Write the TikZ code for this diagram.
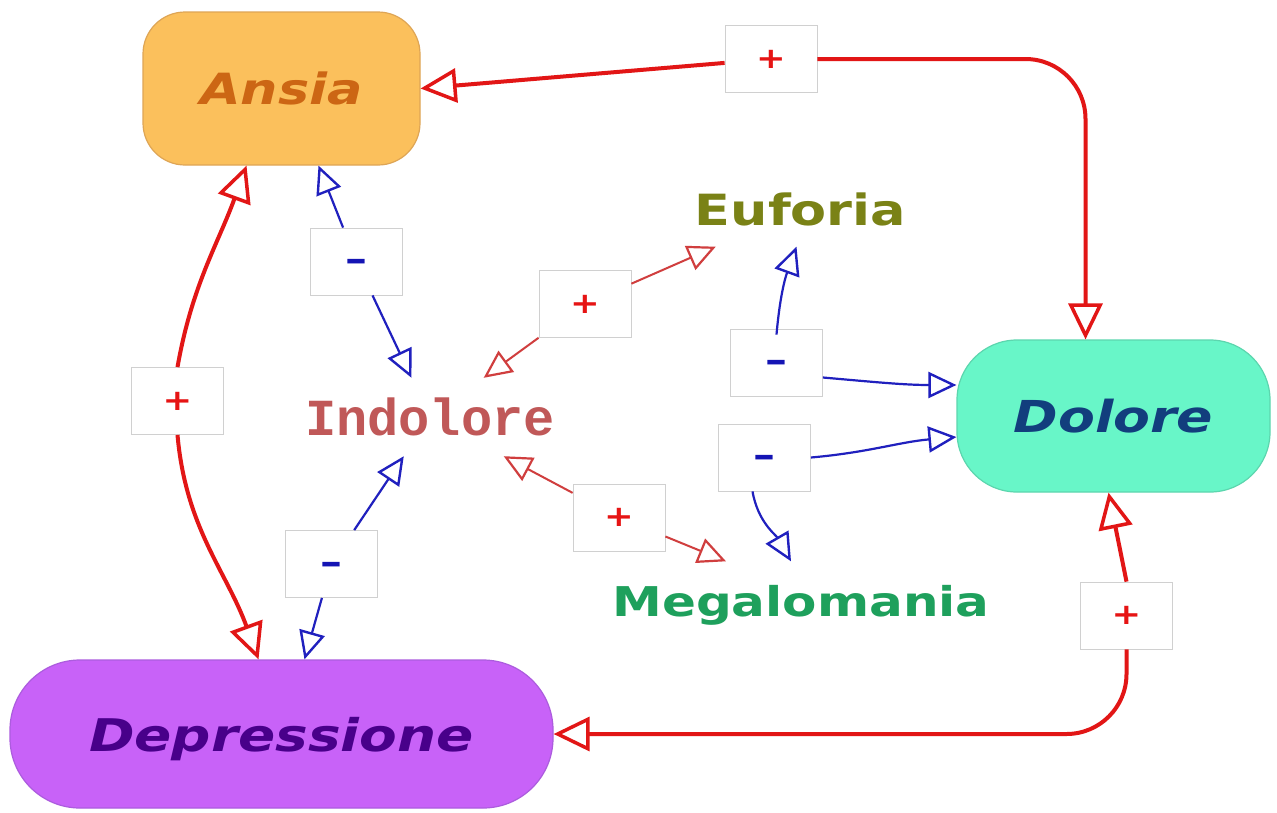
\documentclass[tikz,border=0pt]{standalone}
\usepackage{fontspec}
\usetikzlibrary{arrows.meta}
\newfontfamily\wideface[FakeStretch=1.22]{DejaVu Sans}
\newfontfamily\slabface{Liberation Mono}

\definecolor{ansiafill}{RGB}{251,192,92}
\definecolor{ansiaedge}{RGB}{222,165,85}
\definecolor{ansiatext}{RGB}{204,102,20}
\definecolor{dolorefill}{RGB}{104,246,200}
\definecolor{doloreedge}{RGB}{92,214,174}
\definecolor{doloretext}{RGB}{18,62,125}
\definecolor{deprfill}{RGB}{200,98,248}
\definecolor{depredge}{RGB}{172,92,222}
\definecolor{deprtext}{RGB}{72,0,138}
\definecolor{eufcol}{RGB}{122,130,22}
\definecolor{indcol}{RGB}{192,88,88}
\definecolor{megacol}{RGB}{30,160,92}
\definecolor{linkred}{RGB}{226,22,22}
\definecolor{thinred}{RGB}{208,62,62}
\definecolor{linkblue}{RGB}{32,32,190}
\definecolor{plusred}{RGB}{230,20,20}
\definecolor{minusblue}{RGB}{20,20,180}
\definecolor{signedge}{RGB}{208,208,208}

\tikzset{
  mainbox/.style={rectangle, line width=1.2pt, inner sep=0pt,
    font=\wideface\bfseries\itshape\fontsize{44}{50}\selectfont},
  plain/.style={rectangle, inner sep=0pt,
    font=\wideface\bfseries\fontsize{43}{50}\selectfont},
  sign/.style={rectangle, draw=signedge, fill=white, line width=0.8pt,
    minimum width=92pt, minimum height=67pt, inner sep=0pt},
  plussign/.style={sign, text=plusred,
    font=\wideface\bfseries\fontsize{29}{30}\selectfont},
  minussign/.style={sign, text=minusblue, text height=20pt, text depth=0pt,
    font=\wideface\bfseries\fontsize{36}{40}\selectfont},
  strong/.style={draw=linkred, line width=4pt,
    -{Triangle[length=36pt, width=34pt, fill=white, line width=3.5pt]}},
  weak/.style={draw=thinred, line width=2pt,
    -{Triangle[length=28pt, width=26pt, fill=white, line width=2.2pt]}},
  neg/.style={draw=linkblue, line width=2.2pt,
    -{Triangle[length=28pt, width=26pt, fill=white, line width=2.4pt]}}
}

\begin{document}
\begin{tikzpicture}[x=1pt,y=1pt]
\fill[white] (0,0) rectangle (1277,-812);
\useasboundingbox (0,0) rectangle (1277,-812);

% main concepts
\node[mainbox, fill=ansiafill, draw=ansiaedge, text=ansiatext,
  minimum width=277pt, minimum height=153pt, rounded corners=42pt,
  font=\wideface\bfseries\itshape\fontsize{43}{50}\selectfont]
  (ansia) at (281.5,-88.5) {Ansia};
\node[mainbox, fill=dolorefill, draw=doloreedge, text=doloretext,
  minimum width=313pt, minimum height=152pt, rounded corners=60pt]
  (dolore) at (1113.5,-416) {Dolore};
\node[mainbox, fill=deprfill, draw=depredge, text=deprtext,
  minimum width=543pt, minimum height=148pt, rounded corners=70pt,
  text depth=0pt, font=\wideface\bfseries\itshape\fontsize{45}{50}\selectfont]
  (depressione) at (281.5,-734) {Depressione};

% free-standing concepts
\node[plain, text=eufcol, minimum height=74pt] (euforia) at (800.5,-209.5) {Euforia};
\node[plain, text=indcol, minimum height=78pt,
  font=\slabface\bfseries\fontsize{52}{60}\selectfont]
  (indolore) at (430,-417) {Indolore};
\node[plain, text=megacol, minimum height=78pt, text depth=0pt,
  font=\wideface\bfseries\fontsize{41}{50}\selectfont]
  (megalomania) at (801,-600.5) {Megalomania};

% sign boxes
\node[plussign]  (s1) at (771,-59)       {+};
\node[plussign]  (s2) at (177.5,-401)    {+};
\node[minussign] (s3) at (356.5,-261.5)  {–};
\node[plussign]  (s4) at (585,-304)      {+};
\node[minussign] (s5) at (776.5,-362.5)  {–};
\node[minussign] (s6) at (764.5,-457.5)  {–};
\node[minussign] (s7) at (331.5,-564)    {–};
\node[plussign]  (s8) at (619,-517.5)    {+};
\node[plussign]  (s9) at (1126.5,-615.5) {+};

% outer loop
\draw[strong] (s1) -- (ansia.east);
\draw[strong, rounded corners=60pt] (s1.east) -| ([xshift=-28pt]dolore.north);
\draw[strong] (s2.north) to[out=80,in=-110] ([xshift=-35pt]ansia.south);
\draw[strong] (s2.south) to[out=-85,in=110] ([xshift=-23pt]depressione.north);
\draw[strong] (s9.north) -- ([xshift=-5pt]dolore.south);
\draw[strong, rounded corners=60pt] (s9.south) |- (depressione.east);

% inner links
\draw[neg] (s3) -- ([xshift=37pt]ansia.south);
\draw[neg] (s3) -- (indolore);
\draw[weak] (s4) -- (indolore);
\draw[weak] (s4) -- (euforia);
\draw[neg] ([yshift=-6pt]s5.north) to[out=85,in=-110] ([xshift=-4pt]euforia.south);
\draw[neg] ([yshift=-15pt]s5.east) to[out=-5,in=180] ([yshift=31pt]dolore.west);
\draw[neg] (s6.east) to[out=5,in=185] ([yshift=-21pt]dolore.west);
\draw[neg] ([xshift=-12pt]s6.south) to[out=-80,in=120] ([xshift=-10pt]megalomania.north);
\draw[neg] (s7) -- (indolore);
\draw[neg] (s7) -- ([xshift=23pt]depressione.north);
\draw[weak] (s8) -- (indolore);
\draw[weak] (s8) -- ([xshift=-75pt]megalomania.north);
\end{tikzpicture}
\end{document}
